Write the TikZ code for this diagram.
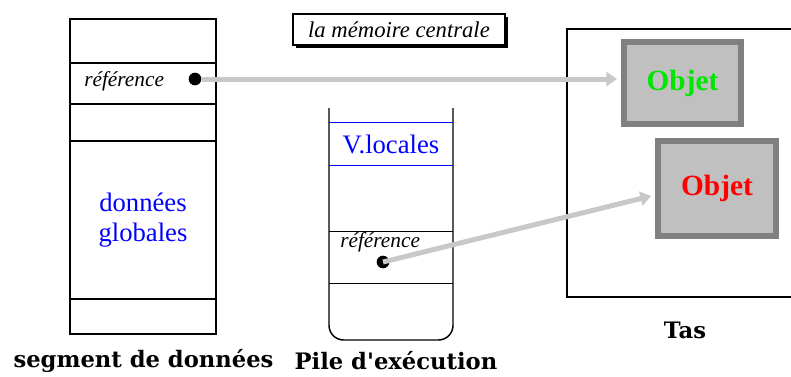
\documentclass[tikz,border=0pt]{standalone}
\usepackage{fontspec}
\setmainfont{Liberation Serif}
\newfontfamily\legende{DejaVu Serif}
\usetikzlibrary{arrows.meta,positioning,shadows}
\definecolor{flgris}{RGB}{200,200,200}
\definecolor{bordobj}{RGB}{128,128,128}
\definecolor{fondobj}{RGB}{192,192,192}
\definecolor{vertobj}{RGB}{0,230,0}
\tikzset{
    cellule/.style={
        draw,line width=1.1pt,minimum width=109.5pt,
        inner sep=0pt,outer sep=0pt
    },
    objet/.style={
        draw=bordobj,line width=4.5pt,fill=fondobj,
        inner sep=0pt,font=\fontsize{22}{24}\selectfont\bfseries
    },
    pointeur/.style={
        -{Triangle[length=8pt,width=10.5pt]},line width=3.75pt,draw=flgris
    },
    point/.style={
        circle,fill=black,inner sep=0pt,minimum size=9.5pt
    },
    refer/.style={font=\fontsize{16}{18}\selectfont\itshape,inner sep=0pt},
    titre/.style={font=\legende\fontsize{17}{20}\selectfont\bfseries}
}

\begin{document}
\begin{tikzpicture}[x=0.75pt,y=-0.75pt]
\useasboundingbox (0,0) rectangle (791,376);

% segment de donnees
\node[cellule,minimum height=33pt] (seghaut) at (143,41) {};
\node[cellule,minimum height=30.75pt,below=0pt of seghaut] (segref) {};
\node[cellule,minimum height=27.75pt,below=0pt of segref] (segvide) {};
\node[cellule,minimum height=118.5pt,below=0pt of segvide,
      text=blue,align=center,font=\fontsize{20}{23}\selectfont] (segglob)
      {données\\globales};
\node[cellule,minimum height=26.25pt,below=0pt of segglob] (segbas) {};
\node[refer,anchor=west] (segtxt) at (84,81) {référence};
\node[point] (dotseg) at (195,79) {};
\node[titre] (labseg) at (143.5,361) {segment de données};

% titre
\node[draw,line width=1.1pt,fill=white,minimum width=159pt,minimum height=23.25pt,
      inner sep=0pt,font=\fontsize{17}{20}\selectfont\itshape,
      drop shadow={shadow xshift=2pt,shadow yshift=-2pt,fill=black,opacity=1}]
      (memoire) at (399,29.5) {la mémoire centrale};

% pile d'execution
\draw[line width=1.1pt,rounded corners=11pt]
    (329,108) -- (329,340) -- (453,340) -- (453,108);
\node[text=blue,minimum width=93pt,minimum height=31.5pt,inner sep=0pt,
      font=\fontsize{20}{23}\selectfont] (vloc) at (391,144) {V.locales};
\draw[blue,line width=1.1pt] (vloc.north west) -- (vloc.north east)
    (vloc.south west) -- (vloc.south east);
\node[minimum width=93pt,minimum height=38.25pt,inner sep=0pt] (pileref) at (391,257.5) {};
\draw[line width=1.1pt] (pileref.north west) -- (pileref.north east)
    (pileref.south west) -- (pileref.south east);
\node[refer,anchor=west] (piletxt) at (340,242) {référence};
\node[point] (dotpile) at (383,262) {};
\node[titre] (labpile) at (396,361) {Pile d'exécution};

% tas
\node[draw,line width=1.1pt,minimum width=174.75pt,minimum height=201pt,inner sep=0pt]
    (tas) at (683.5,163) {};
\node[objet,minimum width=87.75pt,minimum height=61.5pt,text=vertobj] (obj1) at (682.5,83) {Objet};
\node[objet,minimum width=88.5pt,minimum height=71.25pt,text=red] (obj2) at (717,188.5) {Objet};
\node[titre] (labtas) at (685,330) {Tas};

% references
\draw[pointeur,shorten >=3pt] (dotseg.east) -- (dotseg.east -| obj1.west);
\draw[pointeur,shorten >=3pt] (dotpile.center) -- ([yshift=-4.9pt]obj2.west);

\end{tikzpicture}
\end{document}
